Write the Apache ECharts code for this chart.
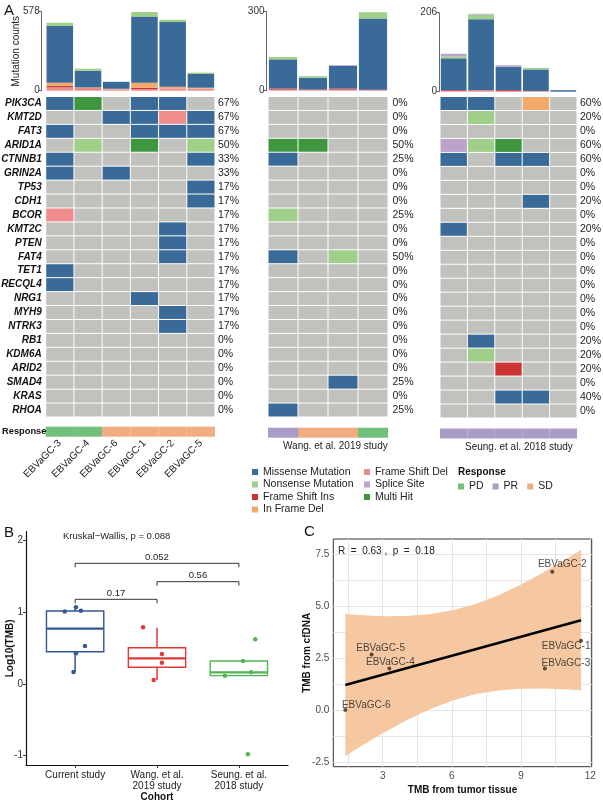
<!DOCTYPE html>
<html><head><meta charset="utf-8">
<script src="https://cdn.jsdelivr.net/npm/echarts@6/dist/echarts.min.js"></script>
<style>html,body{margin:0;padding:0;background:#fff}#c{width:603px;height:802px}</style>
</head><body><div id="c"></div>
<script>
// ---------------- DATA ----------------
const genes = ['PIK3CA','KMT2D','FAT3','ARID1A','CTNNB1','GRIN2A','TP53','CDH1','BCOR','KMT2C','PTEN','FAT4','TET1','RECQL4','NRG1','MYH9','NTRK3','RB1','KDM6A','ARID2','SMAD4','KRAS','RHOA'];
const samples1 = ['EBVaGC-3','EBVaGC-4','EBVaGC-6','EBVaGC-1','EBVaGC-2','EBVaGC-5'];
const samples2 = ['W1','W2','W3','W4'];
const samples3 = ['S1','S2','S3','S4','S5'];
// codes: M missense, N nonsense, I frame shift ins, D in frame del, F frame shift del, S splice site, H multi hit, . none
const mut1 = ['MH.MM.','..MMFM','M..MMM','.N.H.N','M....M','M.M...','.....M','.....M','F.....','....M.','....M.','....M.','M.....','M.....','...M..','....M.','....M.','......','......','......','......','......','......'];
const mut2 = ['....','....','....','HH..','M...','....','....','....','N...','....','....','M.N.','....','....','....','....','....','....','....','....','..M.','....','M...'];
const mut3 = ['MM.D.','.N...','.....','SNH..','M.MM.','.....','.....','...M.','.....','M....','.....','.....','.....','.....','.....','.....','.....','.M...','.N...','..I..','.....','..MM.','.....'];
const pct1 = ['67%','67%','67%','50%','33%','33%','17%','17%','17%','17%','17%','17%','17%','17%','17%','17%','17%','0%','0%','0%','0%','0%','0%'];
const pct2 = ['0%','0%','0%','50%','25%','0%','0%','0%','25%','0%','0%','50%','0%','0%','0%','0%','0%','0%','0%','0%','25%','0%','25%'];
const pct3 = ['60%','20%','0%','60%','60%','0%','0%','20%','0%','20%','0%','0%','0%','0%','0%','0%','0%','20%','20%','20%','0%','40%','0%'];
const resp1 = ['PD','PD','SD','SD','SD','SD'];
const resp2 = ['PR','SD','SD','PD'];
const resp3 = ['PR','PR','PR','PR','PR'];
// mutation counts (stack order bottom->top: FSDel, FSIns, InFrameDel, Missense, Nonsense, Splice)
const bar1FSDel = [24,10,10,10,17,15];
const bar1FSIns = [10,7,0,12,0,0];
const bar1InDel = [24,7,4,37,12,7];
const bar1Missense = [415,122,51,483,473,100];
const bar1Nonsense = [24,15,0,34,17,10];
const bar1Splice = [0,0,0,0,0,0];
const bar2FSDel = [4,3,4,2];
const bar2FSIns = [4,2,4,2];
const bar2InDel = [0,0,0,0];
const bar2Missense = [111,44,86,270];
const bar2Nonsense = [9,6,0,24];
const bar2Splice = [0,0,3,0];
const bar3FSDel = [2,4,1,1,0];
const bar3FSIns = [2,0,3,1,0];
const bar3InDel = [0,0,0,0,0];
const bar3Missense = [83,185,61,56,4];
const bar3Nonsense = [5,12,0,4,0];
const bar3Splice = [7,2,4,0,0];
const barMax = [578,300,206];
// panel B
const cohorts = ['Current study','Wang. et al.\n2019 study','Seung. et al.\n2018 study'];
const boxStats = [[1,0.167,0.45,0.771,1.018,1.07],[2,0.056,0.233,0.358,0.506,0.785],[3,0.116,0.116,0.163,0.32,0.32]];
const ptsCurrent = [[0.873,1.01],[1.01,1.07],[1.07,1.02],[1.12,0.53],[1.01,0.43],[0.98,0.167]];
const ptsWang = [[1.83,0.79],[2.06,0.418],[2.06,0.297],[1.96,0.056]];
const ptsSeung = [[3.2,0.623],[3.05,0.32],[3.15,0.163],[2.83,0.116],[3.11,-0.98]];
const brackets = [[1,2,1.181],[2,3,1.427],[1,3,1.683]];
const bracketLabels = ['0.17','0.56','0.052'];
const bTicks = [-1,0,1,2];
// panel C
const cNames = ['EBVaGC-1','EBVaGC-2','EBVaGC-3','EBVaGC-4','EBVaGC-5','EBVaGC-6'];
const tmbTissue = [11.6,10.35,10.03,3.29,2.52,1.38];
const tmbCfDNA = [3.33,6.65,1.99,1.99,2.66,0.0];
const cLabelOffsets = [[-15,6],[10,-7],[21,-5],[1,-6],[9,-6],[21,-5]];
const fitX = [1.38,11.6];
const fitY = [1.202,4.315];
const bandX = [1.38,2,3,4,5,6,7,8,9,10,11,11.6];
const bandLow = [-2.21,-1.78,-1.12,-0.52,0.01,0.44,0.75,0.93,1.02,1.03,0.98,0.93];
const bandUp = [4.61,4.56,4.51,4.52,4.60,4.78,5.08,5.50,6.03,6.63,7.28,7.70];
const cXTicks = [3,6,9,12];
const cXGrid = [1.5,3,4.5,6,7.5,9,10.5,12];
const cYTicks = [-2.5,0,2.5,5,7.5];
const cYGrid = [-2.5,-1.25,0,1.25,2.5,3.75,5,6.25,7.5];

// ---------------- STYLE ----------------
const FONT = 'Liberation Sans, Arial, Helvetica, sans-serif';
const typeNames = {M:'Missense Mutation',N:'Nonsense Mutation',I:'Frame Shift Ins',D:'In Frame Del',F:'Frame Shift Del',S:'Splice Site',H:'Multi Hit'};
const typeColors = {M:'#3a6b98',N:'#9fcf89',I:'#cc3333',D:'#f1aa6a',F:'#ef8d8d',S:'#bba3c9',H:'#3f963f','.':'#c1c2bd'};
const respColors = {PD:'#72c07c',PR:'#a99cc6',SD:'#f1ad82'};
const boxColors = ['#365694','#e0393a','#50b552'];

const blocks = [
  {samples:samples1, mut:mut1, pct:pct1, resp:resp1, bars:{F:bar1FSDel,I:bar1FSIns,D:bar1InDel,M:bar1Missense,N:bar1Nonsense,S:bar1Splice}, left:45.7, width:169.3, barTop:11.7, heatTop:96.5, heatH:320.5, respTop:426.7, axOff:4, pctMargin:3},
  {samples:samples2, mut:mut2, pct:pct2, resp:resp2, bars:{F:bar2FSDel,I:bar2FSIns,D:bar2InDel,M:bar2Missense,N:bar2Nonsense,S:bar2Splice}, left:268, width:120, barTop:11.7, heatTop:96.5, heatH:320.5, respTop:427.7, axOff:1.5, pctMargin:4.5},
  {samples:samples3, mut:mut3, pct:pct3, resp:resp3, bars:{F:bar3FSDel,I:bar3FSIns,D:bar3InDel,M:bar3Missense,N:bar3Nonsense,S:bar3Splice}, left:440, width:137, barTop:12.7, heatTop:96.5, heatH:321.5, respTop:428.5, axOff:1, pctMargin:3}
];

const grid = [], xAxis = [], yAxis = [], series = [];
const noAxis = {axisLine:{show:false},axisTick:{show:false},axisLabel:{show:false},splitLine:{show:false}};
// bar grids 0-2
blocks.forEach((b,i)=>{
  grid.push({left:b.left, top:b.barTop, width:b.width, height:79, containLabel:false, outerBoundsMode:'none'});
  xAxis.push(Object.assign({gridIndex:i, type:'category', data:b.samples}, noAxis));
  yAxis.push({gridIndex:i, type:'value', min:0, max:barMax[i], interval:barMax[i], offset:b.axOff,
    axisLine:{show:true,lineStyle:{color:'#666',width:1}}, axisTick:{show:true,length:3,lineStyle:{color:'#666'}},
    axisLabel:{fontSize:10,color:'#333',margin:2,fontFamily:FONT}, splitLine:{show:false},
    name: i===0?'Mutation counts':'', nameLocation:'middle', nameGap:20, nameMoveOverlap:false,
    nameTextStyle:{fontSize:10,color:'#222',fontFamily:FONT}});
  ['F','I','D','M','N','S'].forEach(k=>{
    series.push({type:'bar', name:typeNames[k], xAxisIndex:i, yAxisIndex:i, stack:'bars'+i, barWidth:'94%',
      data:b.bars[k], itemStyle:{color:typeColors[k]}, silent:true});
  });
});
series.push({type:'bar', name:typeNames.H, xAxisIndex:0, yAxisIndex:0, stack:'bars0', data:[], itemStyle:{color:typeColors.H}});
// heat grids 3-5
blocks.forEach((b,i)=>{
  grid.push({left:b.left, top:b.heatTop, width:b.width, height:b.heatH, containLabel:false, outerBoundsMode:'none'});
  xAxis.push(Object.assign({gridIndex:3+i, type:'category', data:b.samples}, noAxis));
  yAxis.push({gridIndex:3+i, type:'category', data:genes, inverse:true, axisLine:{show:false}, axisTick:{show:false}, splitLine:{show:false},
    axisLabel:{show:i===0, interval:0, fontSize:10, fontWeight:'bold', fontStyle:'italic', color:'#111', margin:4, fontFamily:FONT}});
  const data = [], codes = [];
  b.mut.forEach((row,ri)=>row.split('').forEach((ch,ci)=>{data.push([ci,ri]); codes.push(ch);}));
  series.push({type:'custom', xAxisIndex:3+i, yAxisIndex:3+i, data:data, silent:true,
    renderItem:(p,api)=>{
      const c = api.coord([api.value(0), api.value(1)]);
      const s = api.size([1,1]);
      const w = Math.abs(s[0]), h = Math.abs(s[1]);
      return {type:'rect', shape:{x:c[0]-w/2+0.5, y:c[1]-h/2+0.5, width:w-1, height:h-1}, style:{fill:typeColors[codes[p.dataIndex]]}};
    }});
});
// resp grids 6-8
blocks.forEach((b,i)=>{
  grid.push({left:b.left, top:b.respTop, width:b.width, height:10, containLabel:false, outerBoundsMode:'none'});
  xAxis.push({gridIndex:6+i, type:'category', data:b.samples, axisLine:{show:false}, axisTick:{show:false}, splitLine:{show:false},
    axisLabel:{show:i===0, interval:0, rotate:45, fontSize:10, color:'#222', margin:5, fontFamily:FONT}});
  yAxis.push(Object.assign({gridIndex:6+i, type:'value', min:0, max:1}, noAxis));
  ['PD','PR','SD'].forEach(r=>{
    series.push({type:'bar', name:r, xAxisIndex:6+i, yAxisIndex:6+i, stack:'resp'+i, barWidth:'100%',
      data:b.resp.map(v=>v===r?1:null), itemStyle:{color:respColors[r]}, silent:true});
  });
});
// panel B grid 9
grid.push({left:26, top:531.7, width:262, bottom:37, containLabel:false, outerBoundsMode:'none'});
xAxis.push({gridIndex:9, type:'value', min:0.4, max:3.6,
  axisLine:{show:true,onZero:false,lineStyle:{color:'#111',width:1.2}}, axisTick:{show:true,length:3,customValues:[1,2,3],lineStyle:{color:'#333'}},
  axisLabel:{customValues:[1,2,3], formatter:v=>cohorts[Math.round(v)-1], fontSize:10, lineHeight:11.5, color:'#222', margin:4, fontFamily:FONT},
  splitLine:{show:false}, name:'Cohort', nameLocation:'middle', nameGap:27, nameMoveOverlap:false,
  nameTextStyle:{fontSize:10,fontWeight:'bold',color:'#111',fontFamily:FONT}});
yAxis.push({gridIndex:9, type:'value', min:-1.13, max:2.124,
  axisLine:{show:true,onZero:false,lineStyle:{color:'#111',width:1.2}}, axisTick:{show:true,length:3,customValues:bTicks,lineStyle:{color:'#333'}},
  axisLabel:{customValues:bTicks, fontSize:10, color:'#333', margin:3, fontFamily:FONT},
  splitLine:{show:false}, name:'Log10(TMB)', nameLocation:'middle', nameGap:10.5, nameMoveOverlap:false,
  nameTextStyle:{fontSize:10,fontWeight:'bold',color:'#111',fontFamily:FONT}});
series.push({type:'custom', xAxisIndex:9, yAxisIndex:9, data:boxStats, silent:true, z:2,
  renderItem:(p,api)=>{
    const x = api.value(0);
    const lo = api.coord([x,api.value(1)]), q1 = api.coord([x,api.value(2)]), md = api.coord([x,api.value(3)]),
          q3 = api.coord([x,api.value(4)]), hi = api.coord([x,api.value(5)]);
    const hw = api.size([0.7,0])[0]/2;
    const col = boxColors[p.dataIndex];
    return {type:'group', children:[
      {type:'line', shape:{x1:lo[0],y1:lo[1],x2:q1[0],y2:q1[1]}, style:{stroke:col,lineWidth:1.5}},
      {type:'line', shape:{x1:q3[0],y1:q3[1],x2:hi[0],y2:hi[1]}, style:{stroke:col,lineWidth:1.5}},
      {type:'rect', shape:{x:q3[0]-hw, y:q3[1], width:2*hw, height:q1[1]-q3[1]}, style:{fill:'none',stroke:col,lineWidth:1.4}},
      {type:'line', shape:{x1:md[0]-hw,y1:md[1],x2:md[0]+hw,y2:md[1]}, style:{stroke:col,lineWidth:2.2}}
    ]};
  }});
[ptsCurrent, ptsWang, ptsSeung].forEach((pts,i)=>{
  series.push({type:'scatter', xAxisIndex:9, yAxisIndex:9, data:pts, symbolSize:4.5, itemStyle:{color:boxColors[i],opacity:1}, silent:true, z:3});
});
series.push({type:'custom', xAxisIndex:9, yAxisIndex:9, data:brackets, silent:true, z:3,
  renderItem:(p,api)=>{
    const a = api.coord([api.value(0),api.value(2)]), b = api.coord([api.value(1),api.value(2)]);
    return {type:'group', children:[
      {type:'polyline', shape:{points:[[a[0],a[1]+4],[a[0],a[1]],[b[0],b[1]],[b[0],b[1]+4]]}, style:{stroke:'#333',lineWidth:1,fill:'none'}},
      {type:'text', x:(a[0]+b[0])/2, y:a[1]-6, style:{text:bracketLabels[p.dataIndex], fill:'#222', font:'9.5px '+FONT, align:'center', verticalAlign:'middle', textAlign:'center', textVerticalAlign:'middle'}}
    ]};
  }});
// panel C grid 10
grid.push({left:333.3, top:539, right:11.3, bottom:35.3, show:true, borderColor:'#333', borderWidth:1, backgroundColor:'#fff', containLabel:false, outerBoundsMode:'none'});
xAxis.push({gridIndex:10, type:'value', min:0.86, max:12.06,
  axisLine:{show:false}, axisTick:{show:false, customValues:cXGrid},
  axisLabel:{customValues:cXTicks, fontSize:10, color:'#4d4d4d', margin:5, fontFamily:FONT},
  splitLine:{show:true, lineStyle:{color:'#e6e6e6',width:1}},
  name:'TMB from tumor tissue', nameLocation:'middle', nameGap:19, nameMoveOverlap:false,
  nameTextStyle:{fontSize:10,fontWeight:'bold',color:'#111',fontFamily:FONT}});
yAxis.push({gridIndex:10, type:'value', min:-2.73, max:8.22,
  axisLine:{show:false}, axisTick:{show:false, customValues:cYGrid},
  axisLabel:{customValues:cYTicks, formatter:v=>v.toFixed(1), fontSize:10, color:'#4d4d4d', margin:4, fontFamily:FONT},
  splitLine:{show:true, lineStyle:{color:'#e6e6e6',width:1}},
  name:'TMB from cfDNA', nameLocation:'middle', nameGap:21, nameMoveOverlap:false,
  nameTextStyle:{fontSize:10,fontWeight:'bold',color:'#111',fontFamily:FONT}});
series.push({type:'custom', xAxisIndex:10, yAxisIndex:10, data:bandX.map((x,i)=>[x,bandLow[i],bandUp[i]]), silent:true, z:1,
  renderItem:(p,api)=>{
    if (p.dataIndex!==0) return null;
    const pts = [];
    bandX.forEach((x,i)=>pts.push(api.coord([x,bandUp[i]])));
    for (let i=bandX.length-1;i>=0;i--) pts.push(api.coord([bandX[i],bandLow[i]]));
    return {type:'polygon', shape:{points:pts}, style:{fill:'#f6c8a2'}};
  }});
series.push({type:'line', xAxisIndex:10, yAxisIndex:10, data:fitX.map((x,i)=>[x,fitY[i]]), symbol:'none', lineStyle:{color:'#000',width:2.6}, silent:true, z:2});
series.push({type:'scatter', xAxisIndex:10, yAxisIndex:10, symbolSize:4, itemStyle:{color:'#3a2612'}, silent:true, z:3,
  data:tmbTissue.map((x,i)=>({value:[x,tmbCfDNA[i]], name:cNames[i], label:{show:true, position:'inside', offset:cLabelOffsets[i], formatter:cNames[i], fontSize:10, color:'#222', fontFamily:FONT}}))});
// percentage label axes (yAxis 11-13) on the right of the heat grids
blocks.forEach((b,i)=>{
  yAxis.push({gridIndex:3+i, type:'category', data:genes, inverse:true, position:'right',
    axisLine:{show:false}, axisTick:{show:false}, splitLine:{show:false},
    axisLabel:{interval:0, formatter:(v,idx)=>b.pct[idx], fontSize:10.5, color:'#222', margin:b.pctMargin, fontFamily:FONT}});
});

const legendBase = {orient:'vertical', itemWidth:6, itemHeight:6, itemGap:1.5, padding:0, icon:'rect', selectedMode:false,
  textStyle:{fontSize:10.5, color:'#222', fontFamily:FONT}};
const option = {
  animation:false,
  backgroundColor:'#fff',
  textStyle:{fontFamily:FONT},
  grid, xAxis, yAxis, series,
  legend:[
    Object.assign({}, legendBase, {left:252, top:466.5, data:['Missense Mutation','Nonsense Mutation','Frame Shift Ins','In Frame Del']}),
    Object.assign({}, legendBase, {left:364, top:466.5, data:['Frame Shift Del','Splice Site','Multi Hit']}),
    Object.assign({}, legendBase, {orient:'horizontal', left:458, top:481, itemGap:9, data:['PD','PR','SD']})
  ],
  graphic:[
    {type:'text', left:4, top:3, z:100, style:{text:'A', font:'15px '+FONT, fill:'#111'}},
    {type:'text', left:4, top:525, z:100, style:{text:'B', font:'15px '+FONT, fill:'#111'}},
    {type:'text', left:304, top:524, z:100, style:{text:'C', font:'15px '+FONT, fill:'#111'}},
    {type:'text', left:2, top:426.5, z:100, style:{text:'Response', font:'bold 9.3px '+FONT, fill:'#111'}},
    {type:'text', left:283, top:441.5, z:100, style:{text:'Wang. et al. 2019 study', font:'10px '+FONT, fill:'#222'}},
    {type:'text', left:465, top:442.5, z:100, style:{text:'Seung. et al. 2018 study', font:'10px '+FONT, fill:'#222'}},
    {type:'text', left:458, top:467.5, z:100, style:{text:'Response', font:'bold 10px '+FONT, fill:'#111'}},
    {type:'text', left:63, top:531, z:100, style:{text:'Kruskal−Wallis, p = 0.088', font:'9.5px '+FONT, fill:'#222'}},
    {type:'text', left:338, top:546, z:100, style:{text:'R  =  0.63 ,  p  =  0.18', font:'10px '+FONT, fill:'#222'}}
  ]
};
const chart = echarts.init(document.getElementById('c'), null, {renderer:'canvas'});
chart.setOption(option);
</script></body></html>
